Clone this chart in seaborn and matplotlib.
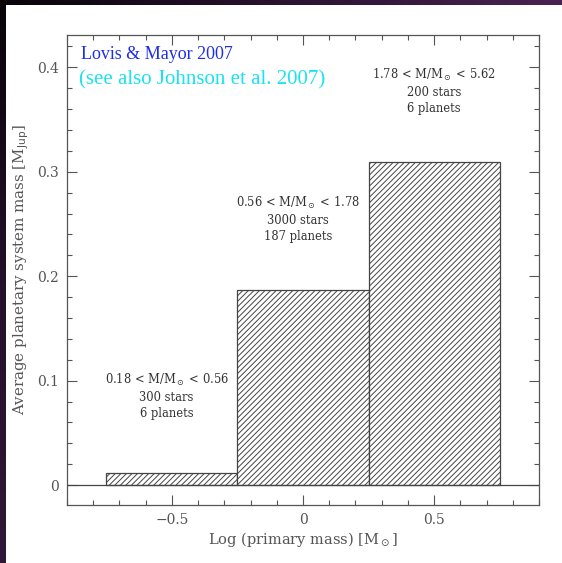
import numpy as np
import pandas as pd
import matplotlib
matplotlib.use("Agg")
import matplotlib.pyplot as plt
from matplotlib.ticker import MultipleLocator
import seaborn as sns

# Stellar-mass bins (log M/Msun) and mean planetary system mass per bin
bin_edges = [-0.75, -0.25, 0.25, 0.75]
mean_system_mass = [0.012, 0.187, 0.309]
mass_ranges = ["0.18 < M/M$_\\odot$ < 0.56",
               "0.56 < M/M$_\\odot$ < 1.78",
               "1.78 < M/M$_\\odot$ < 5.62"]
n_stars = ["300 stars", "3000 stars", "200 stars"]
n_planets = ["6 planets", "187 planets", "6 planets"]

bin_centers = [(a + b) / 2 for a, b in zip(bin_edges[:-1], bin_edges[1:])]
df = pd.DataFrame({"logm": bin_centers, "mass": mean_system_mass})

sns.set_style("ticks")
plt.rcParams["font.family"] = ["DejaVu Serif"]
plt.rcParams["mathtext.fontset"] = "dejavusans"
plt.rcParams["hatch.linewidth"] = 0.7
plt.rcParams["hatch.color"] = "#4a4a4a"

ink = "#555555"

fig = plt.figure(figsize=(5.62, 5.63), dpi=100)
fig.patch.set_facecolor("white")
ax = fig.add_axes([67 / 562, 58 / 563, 472 / 562, 470 / 563])
ax.set_facecolor("white")

sns.histplot(data=df, x="logm", weights="mass", bins=bin_edges, stat="count",
             element="bars", fill=True, facecolor="white", edgecolor="#444444",
             linewidth=0.9, hatch="//////", alpha=1, ax=ax, legend=False)
ax.axhline(0, color="#444444", lw=0.9, zorder=3)

ax.set_xlim(-0.9, 0.9)
ax.set_ylim(-0.019, 0.431)
ax.xaxis.set_major_locator(MultipleLocator(0.5))
ax.xaxis.set_minor_locator(MultipleLocator(0.1))
ax.yaxis.set_major_locator(MultipleLocator(0.1))
ax.yaxis.set_minor_locator(MultipleLocator(0.02))
ax.set_xticks([-0.5, 0, 0.5])
ax.set_xticklabels(["\u22120.5", "0", "0.5"])
ax.set_yticks([0, 0.1, 0.2, 0.3, 0.4])
ax.set_yticklabels(["0", "0.1", "0.2", "0.3", "0.4"])
ax.tick_params(which="both", direction="in", top=True, right=True,
               colors=ink, labelcolor=ink, labelsize=10, width=0.8)
ax.tick_params(which="major", length=7, pad=6)
ax.tick_params(which="minor", length=3.5)
for s in ax.spines.values():
    s.set_color(ink)
    s.set_linewidth(0.9)

ax.set_xlabel("Log (primary mass) [M$_\\odot$]", color=ink, fontsize=10.5, labelpad=2)
ax.set_ylabel("Average planetary system mass [M$_{\\rm Jup}$]", color=ink,
              fontsize=10.8, labelpad=4)

# Bin annotations
label_pos = [(-0.52, 0.108), (-0.02, 0.278), (0.50, 0.400)]
for (x, y), r, s, p in zip(label_pos, mass_ranges, n_stars, n_planets):
    ax.text(x, y, r + "\n" + s + "\n" + p, ha="center", va="top",
            fontsize=8.3, color="#333333", linespacing=1.3)

ax.text(0.029, 0.958, "Lovis & Mayor 2007", transform=ax.transAxes,
        fontfamily="Liberation Serif", fontsize=13, color="#1f2fe8", va="center")
ax.text(0.025, 0.904, "(see also Johnson et al. 2007)", transform=ax.transAxes,
        fontfamily="Liberation Serif", fontsize=15, color="#19e3f0", va="center")

# Dark slide border along the top and left edges
top = fig.add_axes([0, 1 - 5 / 563, 1, 5 / 563])
top.imshow(np.linspace(0, 1, 256)[None, :], aspect="auto",
           cmap=matplotlib.colors.LinearSegmentedColormap.from_list(
               "b", ["#080408", "#2a1230", "#4a2252"]))
top.axis("off")
left = fig.add_axes([0, 0, 6 / 562, 1 - 5 / 563])
left.imshow(np.linspace(0, 1, 256)[:, None], aspect="auto",
            cmap=matplotlib.colors.LinearSegmentedColormap.from_list(
                "l", ["#080408", "#24102a", "#30183a"]))
left.axis("off")

fig.savefig("out.png", dpi=100, facecolor="white")
